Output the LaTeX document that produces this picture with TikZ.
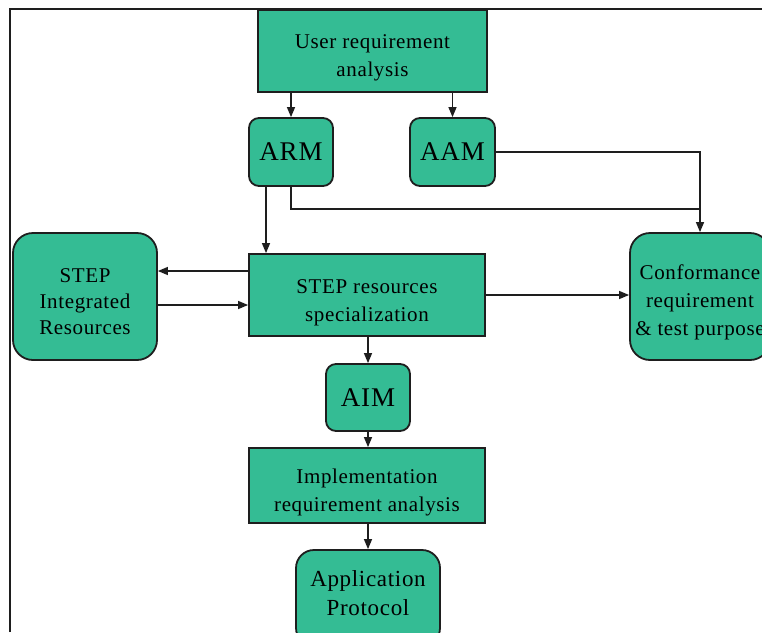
\documentclass[tikz,border=0pt]{standalone}
\usepackage{fontspec}
\setmainfont{Liberation Serif}[LetterSpace=3]
\usetikzlibrary{arrows.meta}
\definecolor{boxfill}{RGB}{52,188,148}
\definecolor{ink}{RGB}{30,30,30}
\newcommand{\dn}[1][28pt]{\rule{0pt}{#1}}
\tikzset{
  sqbox/.style={draw=ink, line width=1.8pt, fill=boxfill, align=center, inner sep=0pt,
    font=\fontsize{21}{28}\selectfont},
  rbox/.style={sqbox, rounded corners=18pt},
  sbox/.style={sqbox, rounded corners=10pt, font=\fontsize{27}{30}\selectfont},
  arr/.style={draw=ink, line width=1.3pt, -{Triangle[length=10pt,width=8pt]}},
  ln/.style={draw=ink, line width=1.3pt},
}
\begin{document}
\begin{tikzpicture}[x=1pt,y=-1pt]
\useasboundingbox (0,0) rectangle (762,632);
\clip (0,0) rectangle (762,632);
\fill[white] (0,0) rectangle (762,632);
\draw[ink, line width=1.5pt] (10,632) -- (10,9);
\draw[ink, line width=2.5pt] (9.25,9) -- (762,9);

\node[sqbox, minimum width=229pt, minimum height=82pt] (ura) at (372.5,51) {\dn User requirement\\analysis};
\node[sbox, minimum width=84pt, minimum height=68pt] (arm) at (291,152) {ARM};
\node[sbox, minimum width=85pt, minimum height=68pt] (aam) at (452.5,152) {AAM};
\node[rbox, rounded corners=20pt, minimum width=144pt, minimum height=127pt, font=\fontsize{21}{26}\selectfont] (sir) at (85,296.5) {\dn[24pt]STEP\\Integrated\\Resources};
\node[sqbox, minimum width=236pt, minimum height=82pt] (spec) at (367,295) {\dn[30pt]STEP resources\\specialization};
\node[rbox, rounded corners=20pt, minimum width=140pt, minimum height=127pt] (conf) at (700,296.5) {\dn[27pt]Conformance\\requirement\\\& test purpose};
\node[sbox, minimum width=84pt, minimum height=67pt] (aim) at (368,397.5) {AIM};
\node[sqbox, minimum width=236pt, minimum height=75pt] (impl) at (367,485.5) {\dn Implementation\\requirement analysis};
\node[rbox, minimum width=144pt, minimum height=96pt, font=\fontsize{23}{29}\selectfont] (ap) at (368,598) {Application\\Protocol\\[-19pt]\mbox{}};

\coordinate (j) at (700,209);
\draw[arr] (ura.south -| arm.north) -- (arm.north);
\draw[arr] (ura.south -| aam.north) -- (aam.north);
\draw[arr] ([xshift=-25pt]arm.south) -- ([xshift=-25pt]arm.south |- spec.north);
\draw[arr] (arm.south) |- (j) -- (conf.north);
\draw[ln] (aam.east) -| (j);
\draw[arr] ([yshift=24pt]spec.west) -- ([yshift=24pt]spec.west -| sir.east);
\draw[arr] ([yshift=-8.5pt]sir.east) -- ([yshift=-8.5pt]sir.east -| spec.west);
\draw[arr] (spec.east) -- (spec.east -| conf.west);
\draw[arr] (spec.south -| aim.north) -- (aim.north);
\draw[arr] (aim.south) -- (aim.south |- impl.north);
\draw[arr] (impl.south -| ap.north) -- (ap.north);
\end{tikzpicture}
\end{document}
